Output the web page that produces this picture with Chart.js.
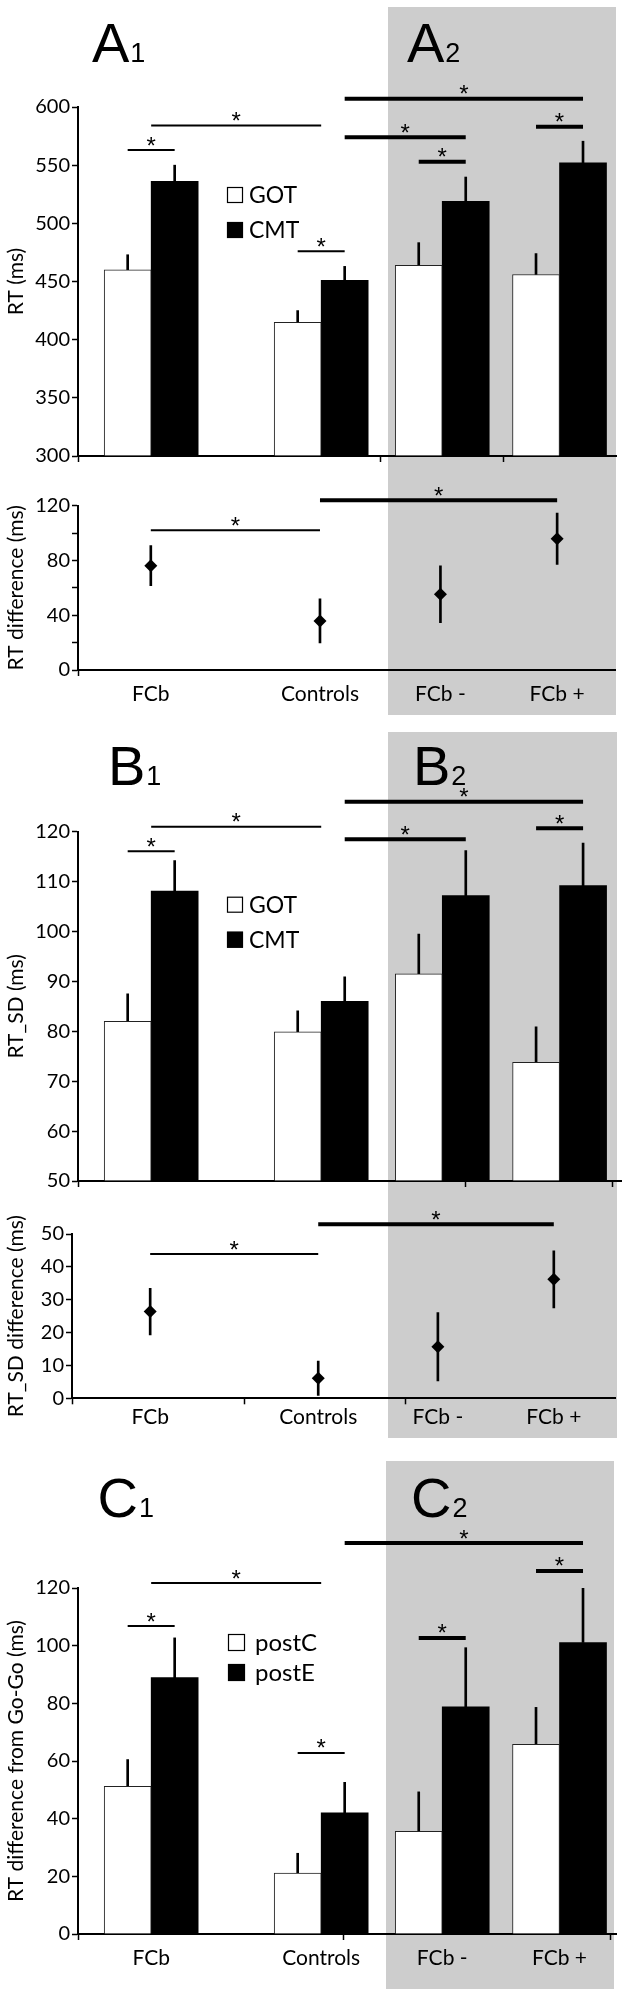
<!DOCTYPE html>
<html><head><meta charset="utf-8">
<script src="https://cdn.jsdelivr.net/npm/chart.js@4.4.1/dist/chart.umd.min.js"></script>
<style>
html,body{margin:0;padding:0;background:#fff}
body{position:relative;width:622px;height:1996px;overflow:hidden}
.shade{position:absolute;background:#cdcdcd}
canvas{position:absolute;left:0}
</style></head><body>
<div class="shade" style="left:388px;top:7px;width:228px;height:708px"></div>
<div class="shade" style="left:388px;top:732px;width:229px;height:706px"></div>
<div class="shade" style="left:386px;top:1461px;width:228px;height:528px"></div>
<canvas id="aBar" width="622" height="470" style="top:0px"></canvas>
<canvas id="aDiff" width="622" height="245" style="top:470px"></canvas>
<canvas id="bBar" width="622" height="475" style="top:720px"></canvas>
<canvas id="bDiff" width="622" height="243" style="top:1195px"></canvas>
<canvas id="cBar" width="622" height="556" style="top:1440px"></canvas>
<script>
// ---------------- data ----------------
const categories = ['FCb', 'Controls', 'FCb -', 'FCb +'];
const groupPos = [1.36, 4.52, 6.77, 8.95];          // where each group sits on the 0-10 x axis

const seriesAB = ['GOT', 'CMT'];
const seriesC  = ['postC', 'postE'];

// A: RT (ms)
const rtGot     = [460, 415, 464, 456];
const rtGotErr  = [13, 10, 19.4, 18];
const rtCmt     = [536, 451, 519, 552];
const rtCmtErr  = [14, 12, 20.8, 18.6];
const rtDiff    = [76.2, 35.8, 55.3, 95.9];
const rtDiffErr = [14.6, 16.1, 20.7, 18.7];

// B: RT_SD (ms)
const sdGot     = [82, 79.9, 91.5, 73.8];
const sdGotErr  = [5.5, 4.2, 8.0, 7.1];
const sdCmt     = [108.1, 86.0, 107.2, 109.2];
const sdCmtErr  = [6.1, 4.9, 9.0, 8.5];
const sdDiff    = [26.4, 6.1, 15.7, 36.2];
const sdDiffErr = [7.1, 5.2, 10.4, 8.7];

// C: RT difference from Go-Go (ms)
const goPostC    = [51.2, 21.1, 35.6, 65.8];
const goPostCErr = [9.3, 6.9, 13.7, 12.8];
const goPostE    = [88.9, 42.0, 78.8, 101.1];
const goPostEErr = [13.8, 10.6, 20.5, 19.5];

// extra x-axis tick marks (no labels)
const aBarMarks  = [5.63, 7.91];
const bBarMarks  = [7.2, 9.93];
const bDiffMarks = [3.14, 6.17];
const cBarMarks  = [4.94, 9.89];

// significance brackets: endpoints = [dataset, index] or ['g', group]
const aBarSig = [
  {from:[0,0], to:[1,0], y:563, w:2},
  {from:['g',0], to:['g',1], y:584, w:2},
  {from:[0,1], to:[1,1], y:476, w:2},
  {from:[1,1], to:[1,3], y:607, w:4},
  {from:[1,1], to:[1,2], y:574, w:4},
  {from:[0,2], to:[1,2], y:553, w:4},
  {from:[0,3], to:[1,3], y:583, w:4}
];
const aDiffSig = [
  {from:[1,0], to:[1,1], y:102, w:2},
  {from:[1,1], to:[1,3], y:124, w:4}
];
const bBarSig = [
  {from:[0,0], to:[1,0], y:116.1, w:2},
  {from:['g',0], to:['g',1], y:121, w:2},
  {from:[1,1], to:[1,3], y:126, w:4},
  {from:[1,1], to:[1,2], y:118.5, w:4},
  {from:[0,3], to:[1,3], y:120.7, w:4}
];
const bDiffSig = [
  {from:[1,0], to:[1,1], y:43.9, w:2},
  {from:[1,1], to:[1,3], y:53, w:4}
];
const cBarSig = [
  {from:[0,0], to:[1,0], y:106.8, w:2},
  {from:['g',0], to:['g',1], y:121.7, w:2},
  {from:[0,1], to:[1,1], y:62.8, w:2},
  {from:[1,1], to:[1,3], y:135.6, w:4},
  {from:[0,2], to:[1,2], y:102.7, w:4},
  {from:[0,3], to:[1,3], y:125.9, w:4}
];

// ---------------- helpers ----------------
const FONT = 'Lato, "Open Sans", sans-serif';
const LBL = '"Liberation Sans", Arial, sans-serif';
Chart.defaults.font.family = FONT;
Chart.defaults.color = '#000';

const extras = {};

const annotate = {
  id: 'annotate',
  afterDraw(chart) {
    const ex = extras[chart.canvas.id]; if (!ex) return;
    const {ctx, chartArea: ca, scales: {x, y}} = chart;
    ctx.save();
    ctx.fillStyle = '#000'; ctx.strokeStyle = '#000'; ctx.lineCap = 'butt';
    ctx.font = '24px ' + LBL; ctx.textAlign = 'center'; ctx.textBaseline = 'alphabetic';
    const m = ctx.measureText('*');
    const px = (e) => e[0] === 'g' ? x.getPixelForValue(groupPos[e[1]]) : chart.getDatasetMeta(e[0]).data[e[1]].x;
    (ex.sig || []).forEach(s => {
      const x1 = px(s.from), x2 = px(s.to), yy = y.getPixelForValue(s.y);
      ctx.lineWidth = s.w; ctx.beginPath(); ctx.moveTo(x1, yy); ctx.lineTo(x2, yy); ctx.stroke();
      const cy = yy - 9;
      ctx.fillText('*', (x1 + x2) / 2, cy + (m.actualBoundingBoxAscent - m.actualBoundingBoxDescent) / 2);
    });
    if (ex.legend) {
      const L = ex.legend;
      chart.data.datasets.slice(0, 2).forEach((d, k) => {
        const bx = ca.left + L.dx, by = ca.top + L.dy + k * L.gap;
        ctx.fillStyle = d.backgroundColor; ctx.fillRect(bx, by, L.box, L.box);
        ctx.lineWidth = 1.2; ctx.strokeStyle = '#000'; ctx.strokeRect(bx + 0.5, by + 0.5, L.box - 1, L.box - 1);
        ctx.fillStyle = '#000'; ctx.font = L.size + 'px ' + FONT; ctx.textAlign = 'left'; ctx.textBaseline = 'middle';
        ctx.fillText(d.label, bx + L.textDx, by + L.box / 2 + 1);
      });
    }
    (ex.panels || []).forEach(p => {
      ctx.fillStyle = '#000'; ctx.textAlign = 'left'; ctx.textBaseline = 'alphabetic';
      ctx.font = '56px ' + LBL; ctx.fillText(p.t, p.x, p.y);
      const w = ctx.measureText(p.t).width;
      ctx.font = '27px ' + LBL; ctx.fillText(p.s, p.x + w + 1, p.y);
    });
    ctx.restore();
  }
};
Chart.register(annotate);

function barSets(names, v1, e1, v2, e2, base) {
  const pts = (v) => groupPos.map((x, i) => ({x, y: v[i]}));
  const errs = (v, e) => groupPos.map((x, i) => ({x, y: [v[i], v[i] + e[i]]}));
  return [
    {type:'bar', label:names[0], data:pts(v1), stack:'s1', barThickness:47, base, backgroundColor:'#ffffff', borderColor:'#222', borderWidth:1, borderSkipped:'start'},
    {type:'bar', label:names[1], data:pts(v2), stack:'s2', barThickness:47, base, backgroundColor:'#000000', borderColor:'#000', borderWidth:0},
    {type:'bar', label:names[0] + ' SE', data:errs(v1, e1), stack:'s1', barThickness:47, maxBarThickness:2, backgroundColor:'#000', borderWidth:0},
    {type:'bar', label:names[1] + ' SE', data:errs(v2, e2), stack:'s2', barThickness:47, maxBarThickness:2, backgroundColor:'#000', borderWidth:0}
  ];
}
function diffSets(v, e) {
  return [
    {type:'bar', label:'SE', data:groupPos.map((x, i) => ({x, y:[v[i] - e[i], v[i] + e[i]]})), barThickness:2, backgroundColor:'#000', borderWidth:0},
    {type:'scatter', label:'difference', data:groupPos.map((x, i) => ({x, y:v[i]})), pointStyle:'rectRot', pointRadius:6.5, pointHoverRadius:6.5, backgroundColor:'#000', borderColor:'#000', borderWidth:0}
  ];
}
function xAxis(o) {
  return {
    type:'linear', min:o.xMin, max:o.xMax, offset:false,
    afterBuildTicks: (s) => {
      const t = [o.xMin, ...o.marks].map(v => ({value:v}));
      if (o.labels) groupPos.forEach(v => t.push({value:v}));
      t.sort((a, b) => a.value - b.value);
      s.ticks = t;
    },
    afterFit: (s) => { s.height = o.xHeight; },
    ticks: {autoSkip:false, maxRotation:0, minRotation:0, padding:o.labelPad || 0, color:'#000', font:{family:FONT, size:21},
      callback: (v) => { const i = groupPos.indexOf(v); return (o.labels && i >= 0) ? categories[i] : ''; }},
    grid: {display:true, drawOnChartArea:false, drawTicks:true, tickLength:6, tickWidth:1.5, color:'#000', offset:false,
      tickColor: (c) => (c.tick && groupPos.indexOf(c.tick.value) >= 0) ? 'rgba(0,0,0,0)' : '#000'},
    border: {display:true, color:'#000', width:2}
  };
}
function yAxis(o) {
  return {
    type:'linear', min:o.min, max:o.max, stacked:false, beginAtZero:false,
    afterFit: (s) => { s.width = o.yWidth; },
    ticks: {stepSize:o.step, autoSkip:false, padding:2, color:'#000', font:{family:FONT, size:20},
      callback: (v) => (o.every ? (v % o.every === 0 ? String(v) : '') : String(v))},
    grid: {display:true, drawOnChartArea:false, drawTicks:true, tickLength:6, tickWidth:1.5, color:'#000'},
    border: {display:true, color:'#000', width:2},
    title: {display:true, text:o.title, color:'#000', font:{family:FONT, size:21}, padding:{top:4, bottom:0}}
  };
}
function make(id, datasets, o) {
  extras[id] = {sig:o.sig, legend:o.legend, panels:o.panels};
  return new Chart(document.getElementById(id), {
    type:'bar',
    data:{datasets},
    options:{
      responsive:false, animation:false, devicePixelRatio:1,
      layout:{padding:{top:o.padTop, right:o.padRight, bottom:0, left:0}},
      plugins:{legend:{display:false}, tooltip:{enabled:false}},
      scales:{x:xAxis(o.x), y:yAxis(o.y)}
    }
  });
}

// ---------------- charts ----------------
make('aBar', barSets(seriesAB, rtGot, rtGotErr, rtCmt, rtCmtErr, 300), {
  padTop:107, padRight:6,
  x:{xMin:0, xMax:10, marks:aBarMarks, labels:false, xHeight:13},
  y:{min:300, max:600, step:50, yWidth:78, title:'RT (ms)'},
  sig:aBarSig,
  legend:{dx:149, dy:80, gap:35, box:16, textDx:22, size:23},
  panels:[{t:'A', s:'1', x:92, y:62}, {t:'A', s:'2', x:407, y:62}]
});
make('aDiff', diffSets(rtDiff, rtDiffErr), {
  padTop:35.7, padRight:4,
  x:{xMin:0, xMax:10.04, marks:[], labels:true, xHeight:45, labelPad:6},
  y:{min:0, max:120, step:20, every:40, yWidth:78, title:'RT difference (ms)'},
  sig:aDiffSig
});
make('bBar', barSets(seriesAB, sdGot, sdGotErr, sdCmt, sdCmtErr, 50), {
  padTop:111.7, padRight:0,
  x:{xMin:0, xMax:10.11, marks:bBarMarks, labels:false, xHeight:13.3},
  y:{min:50, max:120, step:10, yWidth:78, title:'RT_SD (ms)'},
  sig:bBarSig,
  legend:{dx:149, dy:65, gap:35, box:16, textDx:22, size:23},
  panels:[{t:'B', s:'1', x:108, y:65}, {t:'B', s:'2', x:413, y:65}]
});
make('bDiff', diffSets(sdDiff, sdDiffErr), {
  padTop:39, padRight:0,
  x:{xMin:-0.11, xMax:10.11, marks:bDiffMarks, labels:true, xHeight:39.7, labelPad:0.5},
  y:{min:0, max:50, step:10, yWidth:72, title:'RT_SD difference (ms)'},
  sig:bDiffSig
});
make('cBar', barSets(seriesC, goPostC, goPostCErr, goPostE, goPostEErr, 0), {
  padTop:148, padRight:6,
  x:{xMin:0, xMax:10, marks:cBarMarks, labels:true, xHeight:62, labelPad:6},
  y:{min:0, max:120, step:20, yWidth:78, title:'RT difference from Go-Go (ms)'},
  sig:cBarSig,
  legend:{dx:150, dy:46, gap:30, box:17, textDx:27, size:24},
  panels:[{t:'C', s:'1', x:97.5, y:77}, {t:'C', s:'2', x:411, y:77}]
});
</script>
</body></html>
